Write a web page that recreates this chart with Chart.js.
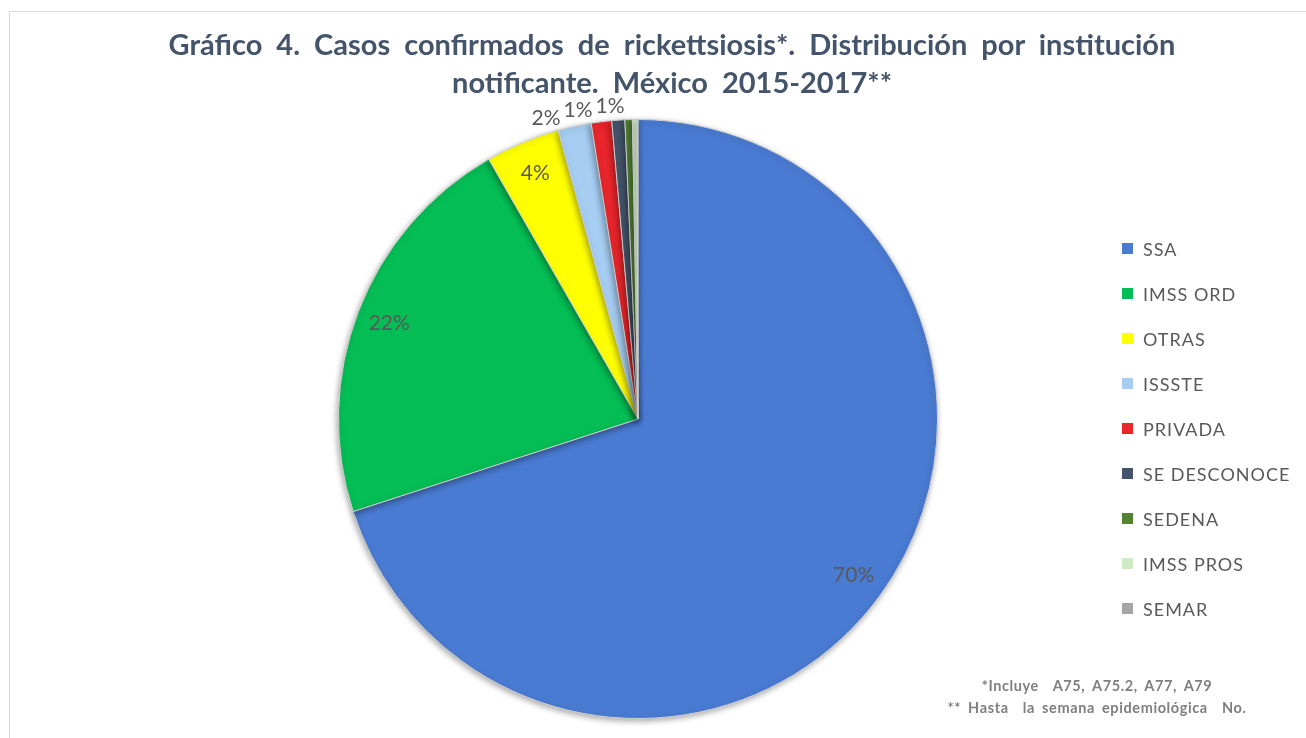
<!DOCTYPE html>
<html lang="es">
<head>
<meta charset="utf-8">
<script src="https://cdn.jsdelivr.net/npm/chart.js@4"></script>
<style>
  html, body { margin: 0; padding: 0; background: #ffffff; }
  #wrap { position: relative; width: 1306px; height: 738px; overflow: hidden; font-family: Lato, "Open Sans", sans-serif; }
  #frame { position: absolute; left: 9px; top: 11px; width: 1400px; height: 800px; border: 1px solid #d9d9d9; box-sizing: border-box; }
  #title { position: absolute; left: 122px; width: 1100px; top: 25px; text-align: center; color: #44546a; font-weight: 700; font-size: 29px; line-height: 38px; word-spacing: 7px; }
  canvas { position: absolute; left: 0; top: 0; }
  #legend { position: absolute; left: 1122px; top: 237px; margin: 0; padding: 0; list-style: none; }
  #legend li { height: 45px; display: flex; align-items: flex-start; color: #595959; font-size: 18px; line-height: 24px; letter-spacing: 1px; }
  #legend span.box { display: inline-block; width: 11px; height: 11px; margin: 6px 10px 0 0; }
  #notes { position: absolute; left: 880px; width: 434px; top: 675px; text-align: center; color: #7f7f7f; font-weight: 700; font-size: 14.5px; line-height: 22px; word-spacing: 3px; letter-spacing: 0.6px; }
</style>
</head>
<body>
<div id="wrap">
  <div id="frame"></div>
  <canvas id="c" width="1306" height="738"></canvas>
  <div id="title">Gráfico 4. Casos confirmados de rickettsiosis*. Distribución por institución<br>notificante. México 2015-2017**</div>
  <ul id="legend"></ul>
  <div id="notes">*Incluye&nbsp; A75, A75.2, A77, A79<br>** Hasta&nbsp; la semana epidemiológica&nbsp; No.</div>
</div>
<script>
// Instituciones notificantes y su porcentaje de casos confirmados
const instituciones = ['SSA', 'IMSS ORD', 'OTRAS', 'ISSSTE', 'PRIVADA', 'SE DESCONOCE', 'SEDENA', 'IMSS PROS', 'SEMAR'];
const porcentajes = [70.0, 21.7, 4.0, 1.8, 1.1, 0.7, 0.4, 0.25, 0.05];
const colores = ['#4a7bd2', '#05bd55', '#ffff00', '#a6cef2', '#e8262b', '#44546a', '#548235', '#cfeac4', '#a5a5a5'];
// Sólo se rotulan las porciones de 0.5% o más
const minRotulo = 0.5;
// Rebanadas cuyo rótulo va fuera del círculo
const rotuloExterior = [false, false, false, true, true, true, false, false, false];

const total = porcentajes.reduce((a, b) => a + b, 0);

// Leyenda
const ul = document.getElementById('legend');
instituciones.forEach((n, i) => {
  const li = document.createElement('li');
  const b = document.createElement('span');
  b.className = 'box';
  b.style.background = colores[i];
  li.appendChild(b);
  li.appendChild(document.createTextNode(n));
  ul.appendChild(li);
});

// Sombra suave bajo el pastel
const sombra = {
  id: 'sombra',
  beforeDatasetsDraw(chart) {
    const ctx = chart.ctx;
    ctx.save();
    ctx.shadowColor = 'rgba(0,0,0,0.35)';
    ctx.shadowBlur = 6;
    ctx.shadowOffsetX = -1;
    ctx.shadowOffsetY = 2;
  },
  afterDatasetsDraw(chart) { chart.ctx.restore(); }
};

// Rótulos de porcentaje
const rotulos = {
  id: 'rotulos',
  afterDatasetsDraw(chart) {
    const ctx = chart.ctx;
    const arcs = chart.getDatasetMeta(0).data;
    ctx.save();
    ctx.font = '21px Lato, "Open Sans", sans-serif';
    ctx.fillStyle = '#595959';
    ctx.textAlign = 'center';
    ctx.textBaseline = 'middle';
    const externos = [];
    arcs.forEach((a, i) => {
      const v = porcentajes[i];
      if (v < minRotulo) return;
      const txt = Math.round(v / total * 100) + '%';
      const mid = (a.startAngle + a.endAngle) / 2;
      if (!rotuloExterior[i]) {
        const r = a.outerRadius * 0.89;
        ctx.fillText(txt, a.x + Math.cos(mid) * r, a.y + Math.sin(mid) * r);
      } else {
        externos.push({ txt, mid, a, w: ctx.measureText(txt).width });
      }
    });
    // Colocar los rótulos exteriores sin que se encimen, de derecha a izquierda
    let limite = Infinity;
    for (let k = externos.length - 1; k >= 0; k--) {
      const e = externos[k];
      const r = e.a.outerRadius + 15;
      let x = e.a.x + Math.cos(e.mid) * r - e.w * 0.25;
      if (x + e.w / 2 > limite) x = limite - e.w / 2;
      const dx = x - e.a.x;
      const y = e.a.y - Math.sqrt(Math.max(r * r - dx * dx, 0));
      ctx.fillText(e.txt, x, y);
      limite = x - e.w / 2 - 3;
    }
    ctx.restore();
  }
};

new Chart(document.getElementById('c'), {
  type: 'pie',
  data: {
    labels: instituciones,
    datasets: [{
      data: porcentajes,
      backgroundColor: colores,
      borderColor: '#cfcfcf',
      borderWidth: 1,
      offset: 0
    }]
  },
  options: {
    responsive: false,
    animation: false,
    rotation: 0,
    layout: { padding: { left: 338, right: 368, top: 119, bottom: 19 } },
    plugins: {
      legend: { display: false },
      tooltip: { enabled: false },
      title: { display: false }
    }
  },
  plugins: [sombra, rotulos]
});
</script>
</body>
</html>
